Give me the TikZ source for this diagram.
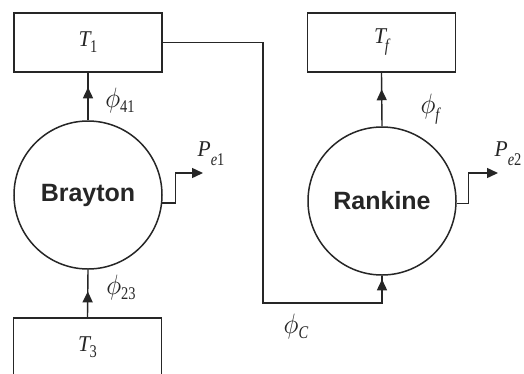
\documentclass[tikz,border=0pt]{standalone}
\usepackage{fontspec}
\usepackage{graphicx}
\newfontfamily\labfont{Liberation Sans}
\newfontfamily\tmfont{Liberation Serif}
\usetikzlibrary{arrows.meta,decorations.markings}
\definecolor{ink}{HTML}{262626}
\newcommand\mainsym[1]{\scalebox{1}[1.05]{\tmfont\fontsize{21.5}{22}\selectfont\itshape #1}}
\newcommand\phisym{\scalebox{2.5}[2.8]{$\phi$}}
\newcommand\subs[2][6pt]{\raisebox{-#1}{\scalebox{0.85}[1.05]{\tmfont\fontsize{17}{18}\selectfont #2}}}
\tikzset{
  tip/.tip={Triangle[length=11pt,width=10pt]},
  flow/.style={draw=ink, line width=1.4pt},
  box/.style={draw=ink, line width=1.3pt, inner sep=0pt, minimum width=148pt, minimum height=59pt, text=ink},
  cycle/.style={circle, draw=ink, line width=1.5pt, minimum size=148pt, inner sep=0pt, font=\labfont\bfseries\fontsize{25}{28}\selectfont, text=ink},
  lab/.style={text=ink, inner sep=0pt},
  midarrow/.style={postaction={decorate}, decoration={markings, mark=at position #1 with {\arrow{tip}}}}
}
\begin{document}
\begin{tikzpicture}[x=1pt,y=-1pt]
\useasboundingbox[fill=white] (0,0) rectangle (524,373);
% boxes
\node[box] (t1) at (88,42.5) {\mainsym{T}\kern-0.5pt\subs{1}};
\node[box] (tf) at (381.5,42.5) {\mainsym{T}\kern-1pt\subs[8pt]{\itshape f}};
\node[box] (t3) at (87.5,347.5) {\mainsym{T}\kern-0.5pt\subs{3}};
% cycles
\node[cycle] (br) at (88,195) {Brayton};
\node[cycle] (rk) at (382,201) {Rankine};
% heat flows
\draw[flow, midarrow=33pt] (br.north) -- (t1.south);
\draw[flow, midarrow=26pt] (t3.north) -- (br.south);
\draw[flow, midarrow=37pt] (rk.north) -- (tf.south);
\coordinate (c1) at (263,303);
\draw[flow, midarrow=-3.5pt] (t1.east) -| (c1) -| (rk.south);
% power outputs
\coordinate (p1) at (203,173);
\coordinate (p2) at (498,173);
\draw[flow, -{tip}] (br.-6) -- ++(13,0) |- (p1);
\draw[flow, -{tip}] (rk.-2) -- ++(12,0) |- (p2);
% labels
\node[lab] (l41) at (120,100) {\phisym\subs[5pt]{41}};
\node[lab] (l23) at (121,287) {\phisym\subs[5pt]{23}};
\node[lab] (lf) at (430,109) {\phisym\subs[7pt]{\itshape f}};
\node[lab] (lc) at (296,326) {\phisym\subs[5pt]{\itshape C}};
\node[lab] (lp1) at (211,154) {\mainsym{P}\subs[9pt]{\itshape e\upshape 1}};
\node[lab] (lp2) at (508,154) {\mainsym{P}\subs[9pt]{\itshape e\upshape 2}};
\end{tikzpicture}
\end{document}
